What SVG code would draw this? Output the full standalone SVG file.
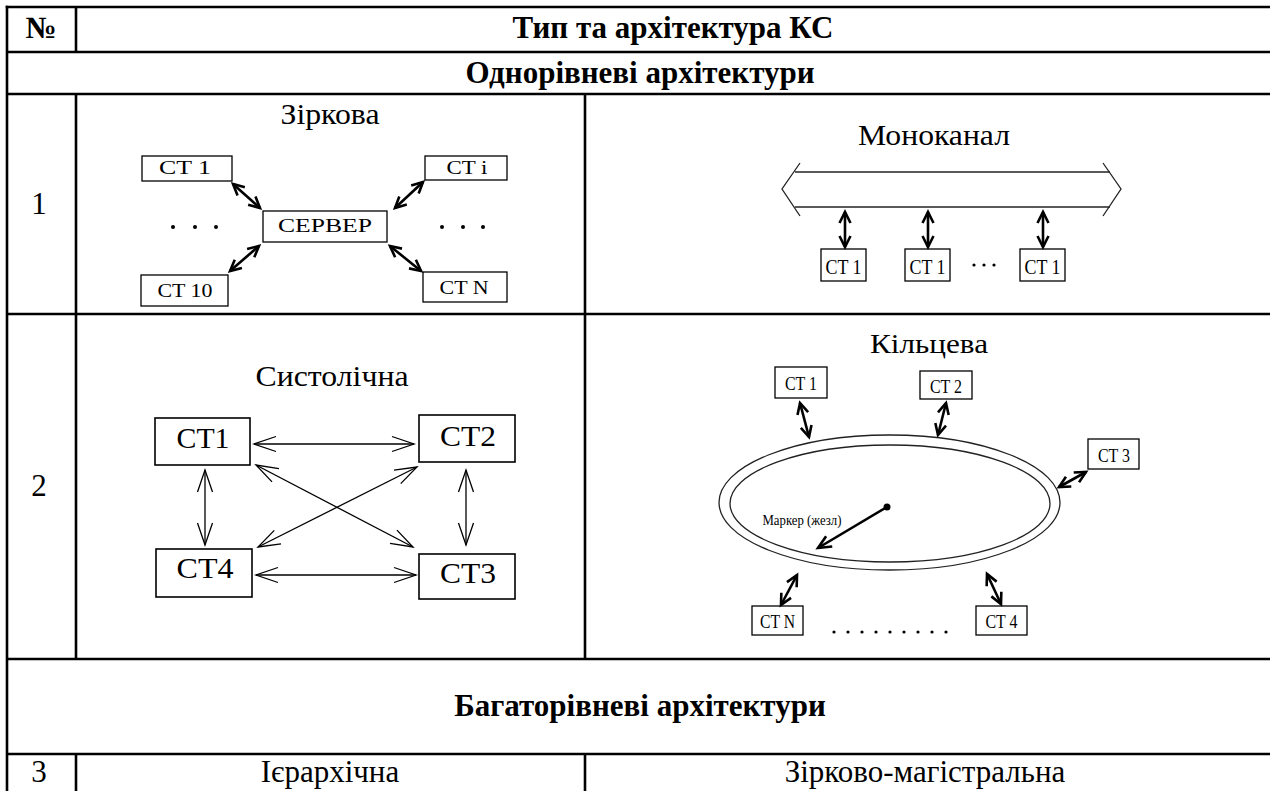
<svg xmlns="http://www.w3.org/2000/svg" width="1270" height="791" viewBox="0 0 1270 791">
<style>
.grid{stroke:#000;stroke-width:2.6;fill:none}
.box{fill:#fff;stroke:#000;stroke-width:1.3}
.boxt{fill:#fff;stroke:#000;stroke-width:1.6}
.t{font-family:"Liberation Serif","Times New Roman",serif;fill:#000}
.b{font-weight:bold;font-size:31px}
.n{font-size:31px}
.thick{stroke:#000;stroke-width:2.6;fill:none;marker-start:url(#hk);marker-end:url(#hk)}
.thin{stroke:#000;stroke-width:1.3;fill:none;marker-start:url(#hn);marker-end:url(#hn)}
.bus{stroke:#222;stroke-width:1.3;fill:none}
.dot{fill:#000}
</style>
<defs>
<marker id="hk" markerUnits="userSpaceOnUse" orient="auto-start-reverse" overflow="visible" refX="0" refY="0" markerWidth="1" markerHeight="1">
<path d="M -11 -5.5 L 0 0 L -11 5.5" fill="none" stroke="#000" stroke-width="2.6"/>
</marker>
<marker id="hn" markerUnits="userSpaceOnUse" orient="auto-start-reverse" overflow="visible" refX="0" refY="0" markerWidth="1" markerHeight="1">
<path d="M -22 -7.5 L 0 0 L -22 7.5" fill="none" stroke="#000" stroke-width="1.3"/>
</marker>
<marker id="hm" markerUnits="userSpaceOnUse" orient="auto" overflow="visible" refX="0" refY="0" markerWidth="1" markerHeight="1">
<path d="M -13 -6 L 0 0 L -13 6" fill="none" stroke="#000" stroke-width="2.6"/>
</marker>
</defs>
<rect width="1270" height="791" fill="#fff"/>

<g id="table" class="grid">
<line x1="5.7" y1="7" x2="1270" y2="7"/>
<line x1="7" y1="52" x2="1270" y2="52"/>
<line x1="7" y1="94" x2="1270" y2="94"/>
<line x1="7" y1="314" x2="1270" y2="314"/>
<line x1="7" y1="659" x2="1270" y2="659"/>
<line x1="7" y1="754" x2="1270" y2="754"/>
<line x1="7" y1="5.7" x2="7" y2="791"/>
<line x1="76" y1="7" x2="76" y2="52"/>
<line x1="76" y1="94" x2="76" y2="659"/>
<line x1="76" y1="754" x2="76" y2="791"/>
<line x1="585" y1="94" x2="585" y2="659"/>
<line x1="585" y1="754" x2="585" y2="791"/>
</g>

<g id="table-text" class="t">
<text class="b" x="41" y="38" text-anchor="middle">№</text>
<text class="b" x="673" y="38" text-anchor="middle">Тип та архітектура КС</text>
<text class="b" x="640" y="83" text-anchor="middle">Однорівневі архітектури</text>
<text class="n" x="39" y="214" text-anchor="middle">1</text>
<text class="n" x="39" y="496" text-anchor="middle">2</text>
<text class="b" x="640" y="716" text-anchor="middle">Багаторівневі архітектури</text>
<text class="n" x="39" y="782" text-anchor="middle">3</text>
<text class="n" x="330" y="782" text-anchor="middle">Ієрархічна</text>
<text class="n" x="925" y="782" text-anchor="middle">Зірково-магістральна</text>
</g>

<!-- Зіркова -->
<g id="star" class="t">
<text x="330" y="124" font-size="29" text-anchor="middle" textLength="99" lengthAdjust="spacingAndGlyphs">Зіркова</text>
<g id="star-ct1"><rect class="box" x="142" y="156" width="90" height="25"/><text x="185" y="174" font-size="19" text-anchor="middle" textLength="52" lengthAdjust="spacingAndGlyphs">CT 1</text></g>
<g id="star-cti"><rect class="box" x="425" y="156" width="82" height="24"/><text x="467" y="174" font-size="19" text-anchor="middle" textLength="41" lengthAdjust="spacingAndGlyphs">CT i</text></g>
<g id="star-server"><rect class="box" x="263" y="211" width="124" height="31"/><text x="325" y="232" font-size="19" text-anchor="middle" textLength="94" lengthAdjust="spacingAndGlyphs">СЕРВЕР</text></g>
<g id="star-ct10"><rect class="box" x="141" y="275" width="87" height="31"/><text x="185" y="297" font-size="19" text-anchor="middle" textLength="55" lengthAdjust="spacingAndGlyphs">CT 10</text></g>
<g id="star-ctn"><rect class="box" x="423" y="272" width="84" height="30"/><text x="464" y="294" font-size="19" text-anchor="middle" textLength="49" lengthAdjust="spacingAndGlyphs">CT N</text></g>
<g id="star-dots" class="dot">
<circle cx="173" cy="227" r="2"/><circle cx="195" cy="227" r="2"/><circle cx="216" cy="227" r="2"/>
<circle cx="442" cy="227" r="2"/><circle cx="463" cy="227" r="2"/><circle cx="483" cy="227" r="2"/>
</g>
</g>

<!-- Моноканал -->
<g id="mono" class="t">
<text x="934" y="145" font-size="29" text-anchor="middle" textLength="152" lengthAdjust="spacingAndGlyphs">Моноканал</text>
<g id="mono-bus" class="bus">
<line x1="795" y1="172" x2="1110" y2="172"/>
<line x1="795" y1="207" x2="1110" y2="207"/>
<polyline points="800,163 782,189 800,216"/>
<polyline points="1103,163 1121,189 1103,216"/>
</g>
<g id="mono-ct1a"><rect class="box" x="821" y="249" width="45" height="32"/><text x="843.5" y="274" font-size="21" text-anchor="middle" textLength="36" lengthAdjust="spacingAndGlyphs">CT 1</text></g>
<g id="mono-ct1b"><rect class="box" x="905" y="249" width="45" height="32"/><text x="927.5" y="274" font-size="21" text-anchor="middle" textLength="36" lengthAdjust="spacingAndGlyphs">CT 1</text></g>
<g id="mono-ct1c"><rect class="box" x="1020" y="249" width="45" height="32"/><text x="1042.5" y="274" font-size="21" text-anchor="middle" textLength="36" lengthAdjust="spacingAndGlyphs">CT 1</text></g>
<g id="mono-dots" class="dot"><circle cx="974" cy="265" r="1.6"/><circle cx="984" cy="265" r="1.6"/><circle cx="994" cy="265" r="1.6"/></g>
</g>

<!-- Систолічна -->
<g id="systolic" class="t">
<text x="332" y="386" font-size="30" text-anchor="middle" textLength="153" lengthAdjust="spacingAndGlyphs">Систолічна</text>
<g id="sys-ct1"><rect class="boxt" x="155" y="418" width="95" height="47"/><text x="203" y="448" font-size="30" text-anchor="middle" textLength="53" lengthAdjust="spacingAndGlyphs">CT1</text></g>
<g id="sys-ct2"><rect class="boxt" x="419" y="415" width="96" height="47"/><text x="468" y="446" font-size="30" text-anchor="middle" textLength="56" lengthAdjust="spacingAndGlyphs">CT2</text></g>
<g id="sys-ct4"><rect class="boxt" x="156" y="549" width="96" height="48"/><text x="205" y="578" font-size="30" text-anchor="middle" textLength="57" lengthAdjust="spacingAndGlyphs">CT4</text></g>
<g id="sys-ct3"><rect class="boxt" x="419" y="554" width="96" height="45"/><text x="468" y="583" font-size="30" text-anchor="middle" textLength="56" lengthAdjust="spacingAndGlyphs">CT3</text></g>
</g>

<!-- Кільцева -->
<g id="ring" class="t">
<text x="929" y="353" font-size="28" text-anchor="middle" textLength="118" lengthAdjust="spacingAndGlyphs">Кільцева</text>
<g id="ring-loop" class="bus">
<ellipse cx="889.5" cy="502.5" rx="170.5" ry="67.5"/>
<ellipse cx="890" cy="503.5" rx="160" ry="58.5"/>
</g>
<g id="ring-ct1"><rect class="box" x="775" y="367" width="52" height="31"/><text x="801" y="390" font-size="19" text-anchor="middle" textLength="32" lengthAdjust="spacingAndGlyphs">CT 1</text></g>
<g id="ring-ct2"><rect class="box" x="920" y="371" width="52" height="28"/><text x="946" y="393" font-size="19" text-anchor="middle" textLength="32" lengthAdjust="spacingAndGlyphs">CT 2</text></g>
<g id="ring-ct3"><rect class="box" x="1088" y="439" width="51" height="30"/><text x="1114" y="462" font-size="19" text-anchor="middle" textLength="32" lengthAdjust="spacingAndGlyphs">CT 3</text></g>
<g id="ring-ctn"><rect class="box" x="752" y="606" width="51" height="29"/><text x="777.5" y="628" font-size="19" text-anchor="middle" textLength="35" lengthAdjust="spacingAndGlyphs">CT N</text></g>
<g id="ring-ct4"><rect class="box" x="976" y="606" width="51" height="29"/><text x="1001.5" y="628" font-size="19" text-anchor="middle" textLength="32" lengthAdjust="spacingAndGlyphs">CT 4</text></g>
<g id="ring-dots" class="dot">
<circle cx="834" cy="632" r="1.6"/><circle cx="848" cy="632" r="1.6"/><circle cx="862" cy="632" r="1.6"/><circle cx="876" cy="632" r="1.6"/><circle cx="890" cy="632" r="1.6"/><circle cx="904" cy="632" r="1.6"/><circle cx="918" cy="632" r="1.6"/><circle cx="932" cy="632" r="1.6"/><circle cx="946" cy="632" r="1.6"/>
</g>
<g id="ring-marker">
<text x="802" y="525" font-size="14" text-anchor="middle" textLength="79" lengthAdjust="spacingAndGlyphs">Маркер (жезл)</text>
<circle class="dot" cx="887" cy="507" r="3.5"/>
<line x1="887" y1="507" x2="818" y2="548" stroke="#000" stroke-width="2.6" marker-end="url(#hm)"/>
</g>
</g>

<g id="connectors">
<!-- star -->
<line class="thick" x1="233" y1="184" x2="260" y2="208"/>
<line class="thick" x1="423" y1="182" x2="395" y2="208"/>
<line class="thick" x1="259" y1="246" x2="230" y2="271"/>
<line class="thick" x1="390" y1="246" x2="421" y2="271"/>
<!-- mono -->
<line class="thick" x1="845" y1="212" x2="845" y2="247"/>
<line class="thick" x1="928" y1="212" x2="928" y2="247"/>
<line class="thick" x1="1043" y1="212" x2="1043" y2="247"/>
<!-- systolic -->
<line class="thin" x1="254" y1="444" x2="414" y2="444"/>
<line class="thin" x1="256" y1="575" x2="416" y2="575"/>
<line class="thin" x1="205" y1="470" x2="205" y2="545"/>
<line class="thin" x1="466" y1="470" x2="466" y2="545"/>
<line class="thin" x1="256" y1="465" x2="413" y2="547"/>
<line class="thin" x1="417" y1="467" x2="258" y2="547"/>
<!-- ring -->
<line class="thick" x1="800" y1="403" x2="809" y2="437"/>
<line class="thick" x1="946" y1="403" x2="938" y2="435"/>
<line class="thick" x1="1086" y1="472" x2="1059" y2="487"/>
<line class="thick" x1="797" y1="575" x2="781" y2="605"/>
<line class="thick" x1="987" y1="574" x2="1001" y2="604"/>
</g>
</svg>
